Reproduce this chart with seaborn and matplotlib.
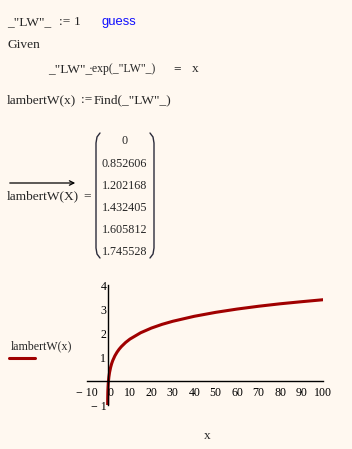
import matplotlib
matplotlib.use("Agg")
import matplotlib.pyplot as plt
import seaborn as sns

w_x = [-0.3679, -0.36, -0.35, -0.3, -0.25, -0.2, -0.1, 0, 0.2, 0.5, 1, 1.5, 2, 3, 4,
       5, 6, 8, 10, 15, 20, 25, 30, 40, 50, 60, 70, 80, 90, 100]
w_y = [-1.0, -0.806, -0.717, -0.489, -0.357, -0.259, -0.112, 0, 0.169, 0.352, 0.567,
       0.726, 0.853, 1.050, 1.202, 1.327, 1.432, 1.606, 1.746, 2.010, 2.205, 2.361,
       2.489, 2.696, 2.861, 2.998, 3.115, 3.217, 3.304, 3.386]
matrix_vals = ["0", "0.852606", "1.202168", "1.432405", "1.605812", "1.745528"]
x_ticks = list(range(-10, 101, 10))
x_tick_labels = ["\u2212 10", "  0"] + [str(t) for t in range(10, 101, 10)]
y_ticks = [-1, 0, 1, 2, 3, 4]
y_tick_labels = ["\u2212 1", "", "1", "2", "3", "4"]

BG = "#fff8f0"
RED = "#a00000"
W, H = 352, 449

sns.set_style("white")
plt.rcParams["font.family"] = ["Liberation Serif", "DejaVu Serif"]

fig = plt.figure(figsize=(W / 100, H / 100), dpi=100, facecolor=BG)

# overlay in pixel coordinates for the worksheet text
deco = fig.add_axes([0, 0, 1, 1])
deco.set_xlim(0, W)
deco.set_ylim(H, 0)
deco.axis("off")

fs = 9.6
def put(x, y, s, **kw):
    kw.setdefault("fontsize", fs)
    deco.text(x, y, s, ha="left", va="baseline", **kw)

put(7, 25, '_"LW"_')
put(59, 25, ":=")
put(74, 25, "1")
put(102, 25, "guess", family=["Liberation Sans"], color="#1010ff", fontsize=9.4)
put(7, 48, "Given")
put(48, 72, '_"LW"_')
put(89, 72, '\u00b7exp(_"LW"_)', fontsize=8.5)
put(173, 72, "=", fontweight="bold")
put(192, 72, "x")
put(7, 103, "lambertW(x)")
put(81, 103, ":=")
put(94, 103, 'Find(_"LW"_)')

deco.annotate("", xy=(78, 183), xytext=(7, 183),
              arrowprops=dict(arrowstyle="->", lw=0.9, color="black", mutation_scale=8))
put(7, 199, "lambertW(X)")
put(83, 199, "=")

baselines = [144, 167, 189, 211, 233, 255]
for v, b in zip(matrix_vals, baselines):
    deco.text(124.5, b, v, ha="center", va="baseline", fontsize=8.7)

# matrix brackets
deco.plot([100, 97, 96, 96, 97, 100], [133, 137, 143, 248, 254, 258], color="#2b2b3a", lw=1)
deco.plot([150, 153, 154, 154, 153, 150], [133, 137, 143, 248, 254, 258], color="#2b2b3a", lw=1)

# trace label
put(11, 349, "lambertW(x)", fontsize=8.6)
deco.plot([9, 35], [357.7, 357.7], color=RED, lw=2.2)
put(204, 439, "x")

# the plot
ax = fig.add_axes([87 / W, 44 / H, 236 / W, 120 / H])
ax.patch.set_alpha(0)
sns.lineplot(x=w_x, y=w_y, ax=ax, color=RED, lw=2.2, estimator=None, sort=False)
ax.set_xlim(-10, 100)
ax.set_ylim(-1, 4)
for side in ["top", "right"]:
    ax.spines[side].set_visible(False)
ax.spines["left"].set_position(("data", 0))
ax.spines["bottom"].set_position(("data", 0))
for side in ["left", "bottom"]:
    ax.spines[side].set_color("black")
    ax.spines[side].set_linewidth(1)
ax.set_xticks(x_ticks)
ax.set_xticklabels(x_tick_labels)
ax.set_yticks(y_ticks)
ax.set_yticklabels(y_tick_labels)
ax.tick_params(direction="inout", length=4, width=1, colors="black", labelsize=8.6)
ax.tick_params(axis="x", pad=2.5)
ax.tick_params(axis="y", pad=-0.5)
ax.set_xlabel("")
ax.set_ylabel("")

fig.savefig("out.png", dpi=100, facecolor=BG)
